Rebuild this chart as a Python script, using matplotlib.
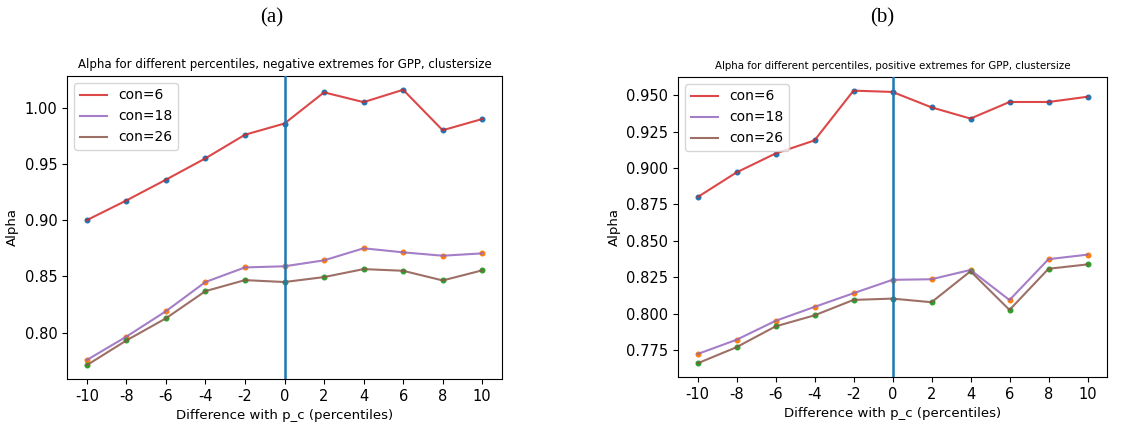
import matplotlib
matplotlib.use("Agg")
import matplotlib.pyplot as plt

# percentile offsets around p_c
diffs = [-10, -8, -6, -4, -2, 0, 2, 4, 6, 8, 10]
tick_labels = ["-10", "-8", "-6", "-4", "-2", "0", "2", "4", "6", "8", "10"]

# (a) negative extremes
neg_con6 = [0.900, 0.9175, 0.936, 0.955, 0.976, 0.986, 1.0137, 1.005, 1.016, 0.980, 0.990]
neg_con18 = [0.7756, 0.7964, 0.819, 0.845, 0.858, 0.859, 0.8643, 0.875, 0.8714, 0.8684, 0.8705]
neg_con26 = [0.771, 0.793, 0.8127, 0.8369, 0.8467, 0.845, 0.8494, 0.8565, 0.855, 0.8464, 0.8554]

# (b) positive extremes
pos_con6 = [0.880, 0.897, 0.910, 0.919, 0.9532, 0.9523, 0.9417, 0.934, 0.9454, 0.9454, 0.949]
pos_con18 = [0.7722, 0.782, 0.795, 0.8046, 0.814, 0.8232, 0.8236, 0.830, 0.8093, 0.8374, 0.8405]
pos_con26 = [0.7658, 0.7769, 0.7912, 0.7988, 0.8094, 0.8103, 0.8078, 0.8291, 0.8025, 0.8308, 0.8338]

fig = plt.figure(figsize=(11.37, 4.30), dpi=100)
W, H = 1137, 430
ax1 = fig.add_axes([67 / W, (H - 379) / H, 435 / W, 303 / H])
ax2 = fig.add_axes([678 / W, (H - 377) / H, 429 / W, 300 / H])


def draw(ax, c6, c18, c26, title, title_size):
    ax.scatter(diffs, c6, s=11, color="tab:blue", zorder=2)
    ax.scatter(diffs, c18, s=11, color="tab:orange", zorder=2)
    ax.scatter(diffs, c26, s=11, color="tab:green", zorder=2)
    ax.plot(diffs, c6, color="tab:red", alpha=0.85, lw=1.5, label="con=6", zorder=3)
    ax.plot(diffs, c18, color="tab:purple", alpha=0.85, lw=1.5, label="con=18", zorder=3)
    ax.plot(diffs, c26, color="tab:brown", alpha=0.85, lw=1.5, label="con=26", zorder=3)
    ax.axvline(0, color="tab:blue", lw=1.8, zorder=4)
    ax.set_xticks(diffs)
    ax.set_xticklabels(tick_labels)
    ax.tick_params(labelsize=10.5)
    ax.set_title(title, fontsize=title_size)
    ax.set_xlabel("Difference with p_c (percentiles)", fontsize=9.5)
    ax.set_ylabel("Alpha", fontsize=9.5)
    ax.legend(loc="upper left", fontsize=10)


draw(ax1, neg_con6, neg_con18, neg_con26,
     "Alpha for different percentiles, negative extremes for GPP, clustersize", 8.5)
draw(ax2, pos_con6, pos_con18, pos_con26,
     "Alpha for different percentiles, positive extremes for GPP, clustersize", 7.4)

fig.text(272 / W, 1 - 18 / H, "(a)", ha="center", va="center",
         family="Liberation Serif", fontsize=15)
fig.text(882 / W, 1 - 18 / H, "(b)", ha="center", va="center",
         family="Liberation Serif", fontsize=15)

fig.savefig("out.png", dpi=100)
